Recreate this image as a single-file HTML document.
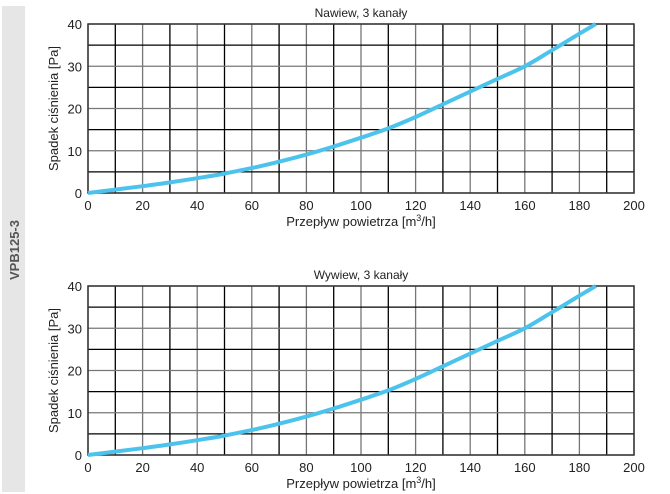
<!DOCTYPE html>
<html><head><meta charset="utf-8"><style>
body{margin:0;background:#fff;width:670px;height:494px;overflow:hidden;font-family:"Liberation Sans",sans-serif}
</style></head><body>
<svg width="670" height="494" style="position:absolute;left:0;top:0">
<rect x="2" y="6" width="23" height="486" fill="#e6e6e6"/>
<text x="19" y="250" transform="rotate(-90 19 250)" text-anchor="middle" font-size="13" font-weight="bold" fill="#555">VPB125-3</text>
<g id="c1"></g><g id="c2"></g>
</svg>
<script>
const xTicks=[0,20,40,60,80,100,120,140,160,180,200];
const yTicks=[0,10,20,30,40];
const flowVals=[0,10,20,30,40,50,60,70,80,90,100,110,120,130,140,150,160,170,180,186];
const pressNawiew=[0,0.8,1.6,2.5,3.5,4.6,5.9,7.4,9.1,11,13.1,15.3,18,21,24,27,30,33.8,37.7,40];
const pressWywiew=[0,0.8,1.6,2.5,3.5,4.6,5.9,7.4,9.1,11,13.1,15.3,18,21,24,27,30,33.8,37.7,40];
const titles=["Nawiew, 3 kanały","Wywiew, 3 kanały"];
const NS="http://www.w3.org/2000/svg";
function mk(p,t,a){const e=document.createElementNS(NS,t);for(const k in a)e.setAttribute(k,a[k]);p.appendChild(e);return e;}
function draw(g,top,title,vals){
 const L=88,R=634,T=top,B=top+169;
 const sx=v=>L+(R-L)*v/200, sy=v=>B-(B-T)*v/40;
 for(let v=0;v<=200;v+=10){const l=mk(g,'line',{x1:sx(v),x2:sx(v),y1:T,y2:B,stroke:v%20?'#000':'#777','stroke-width':1.3});
 
 }
 for(let v=0;v<=40;v+=5){const l=mk(g,'line',{x1:L,x2:R,y1:sy(v),y2:sy(v),stroke:v%10?'#000':'#777','stroke-width':1.3});
 
 }
 const fr=mk(g,'rect',{x:L,y:T,width:R-L,height:B-T,fill:'none',stroke:'#333','stroke-width':1.5});
 
 
 xTicks.forEach(v=>{const t=mk(g,'text',{x:sx(v),y:B+17,'text-anchor':'middle','font-size':13,fill:'#222'});t.textContent=v;
 
 });
 yTicks.forEach(v=>{const t=mk(g,'text',{x:L-6,y:sy(v)+5,'text-anchor':'end','font-size':13,fill:'#222'});t.textContent=v;
 
 });
 const tt=mk(g,'text',{x:(L+R)/2,y:T-7,'text-anchor':'middle','font-size':12,fill:'#222'});tt.textContent=title;
 
 
 const xt=mk(g,'text',{x:(L+R)/2,y:B+33,'text-anchor':'middle','font-size':13,fill:'#222'});
 xt.innerHTML='Przepływ powietrza [m<tspan dy="-5" font-size="9">3</tspan><tspan dy="5">/h]</tspan>';
 
 
 const yc=(T+B)/2;
 const yt=mk(g,'text',{x:58,y:yc,'text-anchor':'middle','font-size':13,fill:'#222',transform:`rotate(-90 58 ${yc})`});yt.textContent='Spadek ciśnienia [Pa]';
 
 
 const pts=flowVals.map((f,i)=>[sx(f),sy(vals[i])]);
 let d='M'+pts[0][0]+','+pts[0][1];
 for(let i=0;i<pts.length-1;i++){
  const p0=pts[Math.max(0,i-1)],p1=pts[i],p2=pts[i+1],p3=pts[Math.min(pts.length-1,i+2)];
  const c1=[p1[0]+(p2[0]-p0[0])/6,p1[1]+(p2[1]-p0[1])/6],c2=[p2[0]-(p3[0]-p1[0])/6,p2[1]-(p3[1]-p1[1])/6];
  d+=`C${c1[0].toFixed(1)},${c1[1].toFixed(1)} ${c2[0].toFixed(1)},${c2[1].toFixed(1)} ${p2[0].toFixed(1)},${p2[1].toFixed(1)}`;
 }
 const p=mk(g,'path',{d:d,fill:'none',stroke:'#4cc3ec','stroke-width':4,'stroke-linejoin':'round'});
 
 
}
draw(document.getElementById('c1'),24,titles[0],pressNawiew);
draw(document.getElementById('c2'),286,titles[1],pressWywiew);
</script>
</body></html>
